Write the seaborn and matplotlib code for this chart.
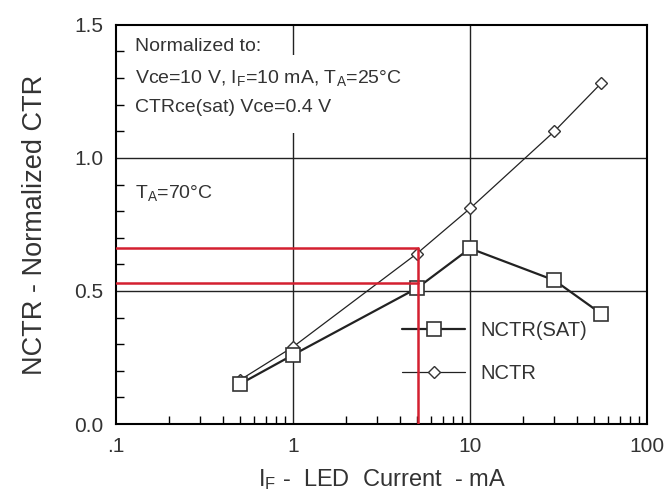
import numpy as np
import pandas as pd
import matplotlib
matplotlib.use("Agg")
import matplotlib.pyplot as plt
import seaborn as sns
from matplotlib.patches import Rectangle
from matplotlib.ticker import FixedLocator, NullFormatter

# Данные с графика
if_ma = [0.5, 1, 5, 10, 30, 55]
nctr_sat = [0.15, 0.26, 0.51, 0.66, 0.54, 0.415]
nctr = [0.165, 0.29, 0.64, 0.81, 1.10, 1.28]

# Красные линии-указатели
red_x = 5.1
red_y = [0.66, 0.53]

x_ticks = [0.1, 1, 10, 100]
x_ticklabels = [".1", "1", "10", "100"]
y_ticks = [0.0, 0.5, 1.0, 1.5]
y_ticklabels = ["0.0", "0.5", "1.0", "1.5"]

sns.set_style("white")
plt.rcParams["font.family"] = ["Liberation Sans", "DejaVu Sans"]
plt.rcParams["mathtext.fontset"] = "custom"
plt.rcParams["mathtext.rm"] = "Liberation Sans"
plt.rcParams["mathtext.it"] = "Liberation Sans"

df = pd.DataFrame({"IF": if_ma, "NCTR(SAT)": nctr_sat, "NCTR": nctr})

fig = plt.figure(figsize=(6.67, 4.96), dpi=100)
ax = fig.add_axes([0.174, 0.145, 0.796, 0.805])

line_col = "#222222"
sns.lineplot(data=df, x="IF", y="NCTR(SAT)", ax=ax, color=line_col, lw=1.6,
             marker="s", markersize=10, markerfacecolor="white",
             markeredgecolor="#333333", markeredgewidth=1.2,
             label="NCTR(SAT)", zorder=5)
sns.lineplot(data=df, x="IF", y="NCTR", ax=ax, color=line_col, lw=0.9,
             marker="D", markersize=6.5, markerfacecolor="white",
             markeredgecolor="#333333", markeredgewidth=1.0,
             label="NCTR", zorder=4)

# красные линии
red = "#d42030"
for yv in red_y:
    ax.plot([0.1, red_x], [yv, yv], color=red, lw=1.8, zorder=6)
ax.plot([red_x, red_x], [0, max(red_y)], color=red, lw=1.8, zorder=6)

ax.set_xscale("log")
ax.set_xlim(0.1, 100)
ax.set_ylim(0, 1.5)

ax.set_xticks(x_ticks)
ax.set_xticklabels(x_ticklabels)
ax.set_yticks(y_ticks)
ax.set_yticklabels(y_ticklabels)
minor_x = [m * d for d in [0.1, 1, 10] for m in range(2, 10)]
ax.xaxis.set_minor_locator(FixedLocator(minor_x))
ax.xaxis.set_minor_formatter(NullFormatter())
ax.yaxis.set_minor_locator(FixedLocator(np.arange(0.1, 1.5, 0.1)))

ax.tick_params(axis="both", which="major", length=0, labelsize=15,
               colors="#333333", pad=9)
ax.tick_params(axis="both", which="minor", direction="in", length=6,
               width=1.0, color="black")
ax.tick_params(axis="y", which="minor", left=True)
ax.tick_params(axis="x", which="minor", bottom=True)

for v in [1, 10]:
    ax.axvline(v, color="#222222", lw=1.0, zorder=1)
for v in [0.5, 1.0]:
    ax.axhline(v, color="#222222", lw=1.0, zorder=1)

for s in ax.spines.values():
    s.set_color("black")
    s.set_linewidth(1.5)

ax.set_xlabel(r"I$_\mathregular{F}$ -  LED  Current  - mA", fontsize=17,
              color="#333333", labelpad=8)
ax.set_ylabel("NCTR - Normalized CTR", fontsize=19.5, color="#333333",
              labelpad=19)

# белая подложка под текстом
ax.add_patch(Rectangle((0.02, 0.729), 0.5, 0.196, transform=ax.transAxes,
                       facecolor="white", edgecolor="none", zorder=2))

txt_kw = dict(transform=ax.transAxes, fontsize=14, color="#333333",
              va="center", ha="left", zorder=8)
ax.text(0.036, 0.945, "Normalized to:", **txt_kw)
ax.text(0.036, 0.867,
        "Vce=10 V, I$_\\mathregular{F}$=10 mA, T$_\\mathregular{A}$=25\u00b0C",
        **txt_kw)
ax.text(0.036, 0.792, "CTRce(sat) Vce=0.4 V", **txt_kw)
ax.text(0.036, 0.579, "T$_\\mathregular{A}$=70\u00b0C", **txt_kw)

leg = ax.legend(loc="center left", bbox_to_anchor=(0.505, 0.18),
                frameon=False, fontsize=14.5, handlelength=3.1,
                handletextpad=0.8, labelspacing=1.2)
for t in leg.get_texts():
    t.set_color("#333333")

fig.savefig("out.png", dpi=100)
